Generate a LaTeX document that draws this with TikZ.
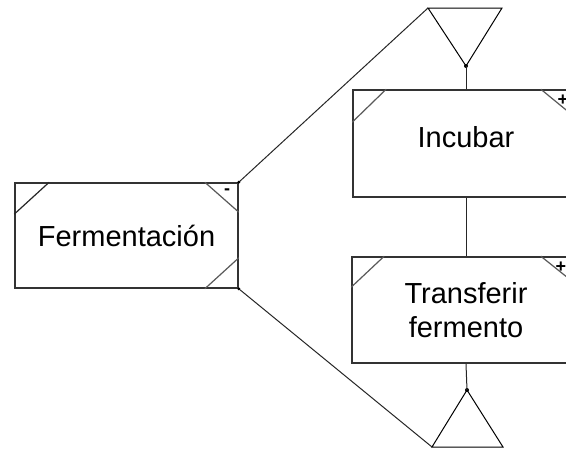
\documentclass[tikz,border=0pt]{standalone}
\usepackage{fontspec}
\setmainfont{Liberation Sans}
\begin{document}
\begin{tikzpicture}[x=1pt,y=-1pt,
  func/.style={draw=black!80, line width=1.6pt, fill=white, rectangle, inner sep=0pt,
               font=\fontsize{29}{34}\selectfont, align=center},
  cut/.style={draw=black!65, line width=1.2pt},
  link/.style={draw=black!85, line width=1pt},
  gate/.style={draw=black, line width=1pt},
  signmark/.style={font=\fontsize{18}{18}\bfseries\selectfont, inner sep=0pt}
]
\useasboundingbox (0,0) rectangle (566,448);
\clip (0,0) rectangle (566,448);

% function boxes
\node[func, minimum width=223pt, minimum height=105pt] (ferm) at (126.5,235.5) {Fermentación};
\node[func, minimum width=226pt, minimum height=107pt, text depth=14pt] (incu) at (466,143.5) {Incubar};
\node[func, minimum width=228pt, minimum height=106pt] (tran) at (466,310) {Transferir\\fermento};

% corner cuts of the boxes
\draw[cut, draw=black!85] ([yshift=-32pt]ferm.north west) -- ([xshift=35pt]ferm.north west);
\draw[cut] ([xshift=-34pt]ferm.north east) -- ([yshift=-30pt]ferm.north east);
\draw[cut] ([xshift=-34pt]ferm.south east) -- ([yshift=31pt]ferm.south east);
\node[signmark] (fm) at (227,192) {-};

\draw[cut] ([yshift=-33pt]incu.north west) -- ([xshift=34pt]incu.north west);
\draw[cut] ([xshift=-39pt]incu.north east) -- ([yshift=-32pt]incu.north east);
\node[signmark] (im) at (563,100) {+};

\draw[cut] ([yshift=-31pt]tran.north west) -- ([xshift=33pt]tran.north west);
\draw[cut] ([xshift=-40pt]tran.north east) -- ([yshift=-32pt]tran.north east);
\node[signmark] (tm) at (561,267) {+};

% split / join triangles
\coordinate (t1) at (428,8);
\coordinate (t2) at (502,8);
\coordinate (t3) at (466,66);
\draw[gate] (t1) -- (t2) -- (t3) -- cycle;
\fill (t3) circle (2pt);

\coordinate (b1) at (467,390);
\coordinate (b2) at (432,447);
\coordinate (b3) at (503,447);
\draw[gate] (b1) -- (b2) -- (b3) -- cycle;
\fill (b1) circle (2pt);

% connectors
\draw[link] (ferm.north east) -- (t1);
\draw[link] (ferm.south east) -- (b2);
\draw[link] (t3) -- (incu.north);
\draw[link] (incu.south) -- (tran.north);
\draw[link] (tran.south) -- (b1);
\fill (ferm.north east) circle (1.6pt);
\fill (ferm.south east) circle (1.6pt);
\end{tikzpicture}
\end{document}
